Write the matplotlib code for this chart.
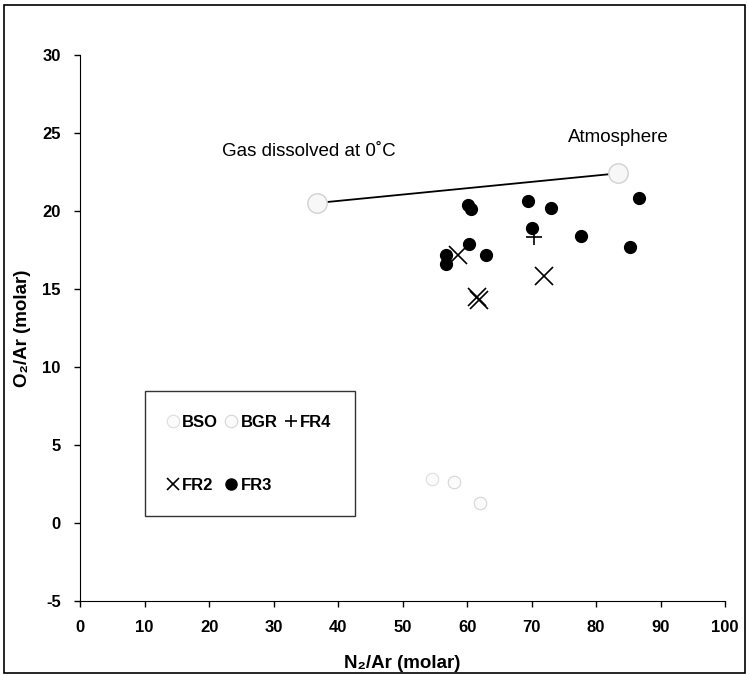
import matplotlib
matplotlib.use("Agg")
import matplotlib.pyplot as plt
from matplotlib.patches import Rectangle

plt.rcParams['font.family'] = ['Liberation Sans', 'DejaVu Sans']
plt.rcParams['axes.unicode_minus'] = False

# end members
dissolved = (36.7, 20.5)
atmosphere = (83.4, 22.4)

bso_x = [54.5]
bso_y = [2.8]
bgr_x = [58.0, 62.0]
bgr_y = [2.6, 1.3]
fr4_x = [70.4]
fr4_y = [18.3]
fr2_x = [58.6, 72.0, 61.5, 61.9]
fr2_y = [17.2, 15.8, 14.5, 14.3]
fr3_x = [60.1, 60.6, 69.4, 73.0, 86.7, 70.0, 77.7, 85.2, 60.3, 62.9, 56.7, 56.7]
fr3_y = [20.4, 20.1, 20.6, 20.2, 20.8, 18.9, 18.4, 17.7, 17.9, 17.2, 17.2, 16.6]

xticks = list(range(0, 101, 10))
yticks = list(range(-5, 31, 5))

fig = plt.figure(figsize=(7.49, 6.76), dpi=100)
ax = fig.add_axes([0.107, 0.111, 0.861, 0.808])

# outer frame
fig.patches.append(Rectangle((0.006, 0.004), 0.988, 0.989, transform=fig.transFigure,
                             fill=False, edgecolor='black', linewidth=1.2))

ax.plot([dissolved[0], atmosphere[0]], [dissolved[1], atmosphere[1]], color='black', lw=1.3, zorder=2)
ax.plot([dissolved[0], atmosphere[0]], [dissolved[1], atmosphere[1]], ls='none', marker='o', ms=14,
        mfc='#f7f7f7', mec='#d2d2d2', mew=1.0, zorder=3)

h_bso, = ax.plot(bso_x, bso_y, ls='none', marker='o', ms=9, mfc='#fbfbfb', mec='#dedede', mew=0.8)
h_bgr, = ax.plot(bgr_x, bgr_y, ls='none', marker='o', ms=9, mfc='#fbfbfb', mec='#d6d6d6', mew=0.8)
h_fr4, = ax.plot(fr4_x, fr4_y, ls='none', marker='+', ms=12, mec='black', mew=1.2)
h_fr2, = ax.plot(fr2_x, fr2_y, ls='none', marker='x', ms=13, mec='black', mew=1.2)
h_fr3, = ax.plot(fr3_x, fr3_y, ls='none', marker='o', ms=8.5, mfc='black', mec='black')

ax.text(22, 23.8, "Gas dissolved at 0˚C", fontsize=13.5, va='center', ha='left')
ax.text(75.7, 24.7, "Atmosphere", fontsize=13.5, va='center', ha='left')

ax.set_xlim(0, 100)
ax.set_ylim(-5, 30)
ax.set_xticks(xticks)
ax.set_yticks(yticks)
for lab in ax.get_xticklabels() + ax.get_yticklabels():
    lab.set_fontweight('bold')
    lab.set_fontsize(12)
ax.tick_params(direction='out', length=4, width=1, pad=10)
ax.spines['top'].set_visible(False)
ax.spines['right'].set_visible(False)

ax.set_xlabel("N₂/Ar (molar)", fontsize=13.5, fontweight='bold', labelpad=14)
ax.set_ylabel("O₂/Ar (molar)", fontsize=13.5, fontweight='bold', labelpad=8)

leg = ax.legend([h_bso, h_fr2, h_bgr, h_fr3, h_fr4], ["BSO", "FR2", "BGR", "FR3", "FR4"],
                ncol=3, loc='lower left', bbox_to_anchor=(0.1, 0.155), frameon=True,
                fancybox=False, edgecolor='black', handlelength=0.6,
                handletextpad=0.25, columnspacing=0.5, labelspacing=2.9, borderpad=1.4,
                borderaxespad=0, prop={'weight': 'bold', 'size': 12})
leg.get_frame().set_linewidth(1.0)
for h in leg.legend_handles[1:]:
    h.set_markersize(9)
leg.legend_handles[3].set_markersize(8)

fig.savefig("out.png", dpi=100)
